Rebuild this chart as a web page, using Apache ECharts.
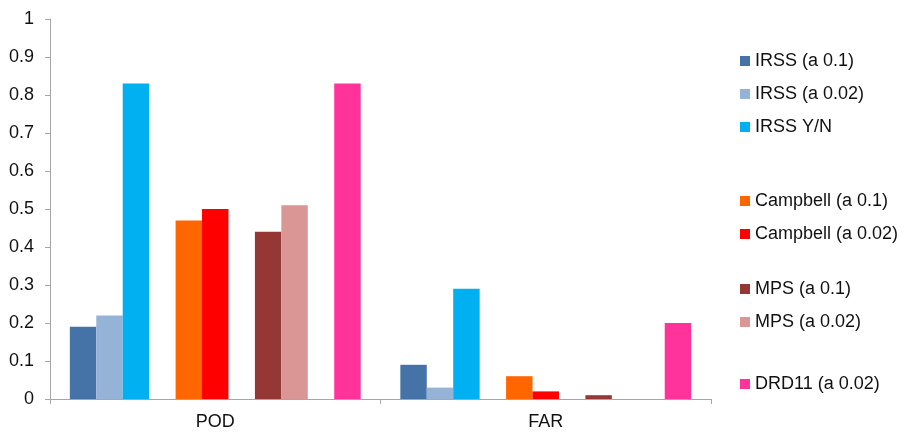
<!DOCTYPE html>
<html>
<head>
<meta charset="utf-8">
<script src="https://cdn.jsdelivr.net/npm/echarts@6/dist/echarts.min.js"></script>
<style>
  html, body { margin: 0; padding: 0; background: #fff; }
  #chart { width: 905px; height: 432px; }
</style>
</head>
<body>
<div id="chart"></div>
<script>
// Categories on the x axis
const categories = ['POD', 'FAR'];

// Series values: [POD, FAR]
const irss01 = [0.19, 0.09];
const irss002 = [0.22, 0.03];
const irssYN = [0.83, 0.29];
const campbell01 = [0.47, 0.06];
const campbell002 = [0.50, 0.02];
const mps01 = [0.44, 0.01];
const mps002 = [0.51, 0];
const drd11 = [0.83, 0.20];

// Series names
const names = [
  'IRSS (a 0.1)', 'IRSS (a 0.02)', 'IRSS Y/N',
  'Campbell (a 0.1)', 'Campbell (a 0.02)',
  'MPS (a 0.1)', 'MPS (a 0.02)',
  'DRD11 (a 0.02)'
];

// Y axis range
const yMin = 0, yMax = 1, yStep = 0.1;

const colors = {
  'IRSS (a 0.1)': '#4572A7',
  'IRSS (a 0.02)': '#95B3D7',
  'IRSS Y/N': '#00B0F0',
  'Campbell (a 0.1)': '#FF6600',
  'Campbell (a 0.02)': '#FF0000',
  'MPS (a 0.1)': '#953735',
  'MPS (a 0.02)': '#D99694',
  'DRD11 (a 0.02)': '#FF3399'
};

const values = [irss01, irss002, irssYN, campbell01, campbell002, mps01, mps002, drd11];
const FONT = 'Liberation Sans, Arial, sans-serif';

function bar(name, data) {
  return {
    name: name,
    type: 'bar',
    data: data,
    barGap: 0,
    barCategoryGap: '12%',
    itemStyle: { color: colors[name] },
    emphasis: { disabled: true }
  };
}
// empty slot separating the groups of bars
function spacer(id) {
  return { name: '_sp' + id, type: 'bar', data: [null, null], barGap: 0, barCategoryGap: '12%', silent: true };
}

const series = [
  bar(names[0], values[0]), bar(names[1], values[1]), bar(names[2], values[2]),
  spacer(1),
  bar(names[3], values[3]), bar(names[4], values[4]),
  spacer(2),
  bar(names[5], values[5]), bar(names[6], values[6]),
  spacer(3),
  bar(names[7], values[7])
];

const legendBase = {
  orient: 'vertical',
  left: 740,
  padding: 0,
  itemWidth: 10,
  itemHeight: 10,
  itemGap: 15,
  icon: 'rect',
  selectedMode: false,
  textStyle: { fontFamily: FONT, fontSize: 18, color: '#111' }
};

const chart = echarts.init(document.getElementById('chart'), null, { renderer: 'canvas' });
chart.setOption({
  animation: false,
  backgroundColor: '#fff',
  grid: { left: 50, right: 194, top: 19, bottom: 33 },
  legend: [
    Object.assign({}, legendBase, { top: 52, data: names.slice(0, 3) }),
    Object.assign({}, legendBase, { top: 192, data: names.slice(3, 5) }),
    Object.assign({}, legendBase, { top: 280, data: names.slice(5, 7) }),
    Object.assign({}, legendBase, { top: 375, data: names.slice(7) })
  ],
  xAxis: {
    type: 'category',
    data: categories,
    axisLine: { lineStyle: { color: '#A6A6A6', width: 1 } },
    axisTick: { show: true, length: 5, lineStyle: { color: '#A6A6A6' } },
    axisLabel: { margin: 14, fontFamily: FONT, fontSize: 18, color: '#111' },
    splitLine: { show: false }
  },
  yAxis: {
    type: 'value',
    min: yMin,
    max: yMax,
    interval: yStep,
    axisLine: { show: true, lineStyle: { color: '#A6A6A6', width: 1 } },
    axisTick: { show: true, length: 5, lineStyle: { color: '#A6A6A6' } },
    axisLabel: {
      margin: 16,
      fontFamily: FONT,
      fontSize: 18,
      color: '#111',
      formatter: function (v) { return String(Math.round(v * 10) / 10); }
    },
    splitLine: { show: false }
  },
  series: series
});
</script>
</body>
</html>
